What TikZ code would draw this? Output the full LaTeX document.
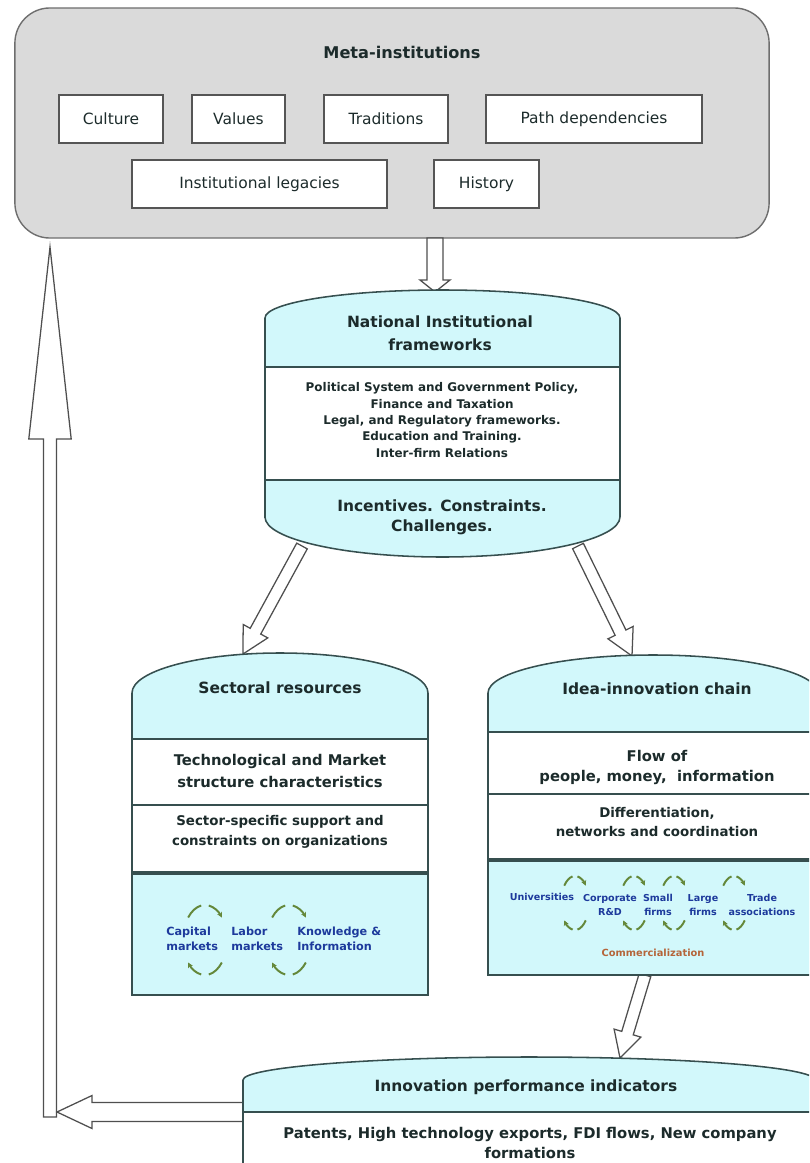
\documentclass[tikz,border=0pt]{standalone}
\usepackage{fontspec}
\setmainfont{DejaVu Sans}
\usepackage{tikz}
\usetikzlibrary{arrows.meta, calc}
\definecolor{cMeta}{HTML}{DADADA}
\definecolor{cMetaB}{HTML}{6E6E6E}
\definecolor{cTagB}{HTML}{555555}
\definecolor{cCyl}{HTML}{D2F8FB}
\definecolor{cCylB}{HTML}{364F4F}
\definecolor{cText}{HTML}{1C2B2B}
\definecolor{cBlue}{HTML}{1D3A9C}
\definecolor{cComm}{HTML}{B5653A}
\definecolor{cLoop}{HTML}{64883A}
\definecolor{cEdge}{HTML}{4F4F4F}

\newcommand{\blockarrow}[5]{%
  \coordinate (hb) at ($(#2)!#5!(#1)$);
  \filldraw[hollow] ($(#1)!#3!90:(#2)$) -- ($(hb)!#3!90:(#2)$) -- ($(hb)!#4!90:(#2)$) -- (#2)
    -- ($(hb)!#4!-90:(#2)$) -- ($(hb)!#3!-90:(#2)$) -- ($(#1)!#3!-90:(#2)$) -- cycle;
}
\newcommand{\loopmark}[4]{%
  \draw[cycarrow] (#1,#2) ++(-140:#3 and #4) arc[start angle=-140, end angle=-100, x radius=#3, y radius=#4];
  \draw[cycarrow, -{Stealth[length=1.3mm, width=1.3mm]}] (#1,#2) ++(-80:#3 and #4) arc[start angle=-80, end angle=-40, x radius=#3, y radius=#4];
  \draw[cycarrow] (#1,#2) ++(40:#3 and #4) arc[start angle=40, end angle=80, x radius=#3, y radius=#4];
  \draw[cycarrow, -{Stealth[length=1.3mm, width=1.3mm]}] (#1,#2) ++(100:#3 and #4) arc[start angle=100, end angle=140, x radius=#3, y radius=#4];
}

\begin{document}
\begin{tikzpicture}[x=0.025cm, y=-0.025cm,
  every node/.style={align=center, inner sep=0pt, text=cText},
  metabox/.style={draw=cMetaB, fill=cMeta, rounded corners=0.875cm, line width=1pt, minimum width=18.85cm, minimum height=5.75cm},
  tag/.style={draw=cTagB, fill=white, line width=1.1pt, minimum height=1.2cm, font=\fontsize{11}{13}\selectfont},
  ttl/.style={font=\bfseries\fontsize{11}{16}\selectfont},
  body/.style={font=\bfseries\fontsize{8.5}{11.7}\selectfont},
  sub/.style={font=\bfseries\fontsize{9.5}{14}\selectfont},
  big/.style={font=\bfseries\fontsize{10.5}{15}\selectfont},
  lbl/.style={text=cBlue, font=\bfseries\fontsize{8}{10.5}\selectfont},
  slbl/.style={text=cBlue, font=\bfseries\fontsize{6.8}{10.5}\selectfont},
  cyl/.style={draw=cCylB, line width=1.1pt},
  hollow/.style={draw=cEdge, fill=white, line width=0.9pt, line join=miter},
  cycarrow/.style={draw=cLoop, line width=1.4pt}
]
\useasboundingbox (0,0) rectangle (809,1163);
\clip (0,0) rectangle (809,1163);

\node[metabox] (meta) at (392,123) {};
\node[ttl, font=\bfseries\fontsize{11.5}{14}\selectfont] (metaTitle) at (402,52) {Meta-institutions};
\node[tag, minimum width=2.6cm] (culture) at (111,119) {Culture};
\node[tag, minimum width=2.325cm] (values) at (238.5,119) {Values};
\node[tag, minimum width=3.1cm] (traditions) at (386,119) {Traditions};
\node[tag, minimum width=5.4cm] (path) at (594,119) {Path dependencies};
\node[tag, minimum width=6.375cm] (legacies) at (259.5,184) {Institutional legacies};
\node[tag, minimum width=2.625cm] (history) at (486.5,184) {History};

\coordinate (metaOut) at (435,238);
\coordinate (natIn) at (435,292);
\coordinate (natOutL) at (302,546);
\coordinate (natOutR) at (578,546);
\coordinate (secIn) at (243,654);
\coordinate (ideaIn) at (632,656);
\coordinate (ideaOut) at (645,975);
\coordinate (innIn) at (620,1058);
\coordinate (innOut) at (243,1112);
\coordinate (backIn) at (57,1112);
\coordinate (backUp) at (50,1117);
\coordinate (metaIn) at (50,247);

\blockarrow{metaOut}{natIn}{0.2cm}{0.375cm}{0.3cm}
\blockarrow{natOutL}{secIn}{0.15cm}{0.35cm}{0.65cm}
\blockarrow{natOutR}{ideaIn}{0.15cm}{0.35cm}{0.65cm}
\blockarrow{ideaOut}{innIn}{0.15cm}{0.35cm}{0.65cm}
\blockarrow{backUp}{metaIn}{0.1625cm}{0.53cm}{4.8cm}
\blockarrow{innOut}{backIn}{0.2375cm}{0.4125cm}{0.875cm}

\fill[cCyl] (265,367) -- (265,318) arc[start angle=180, end angle=360, x radius=177.5, y radius=28] -- (620,367) -- cycle;
\fill[white] (265,367) rectangle (620,480);
\fill[cCyl] (265,480) -- (265,517) arc[start angle=180, end angle=0, x radius=177.5, y radius=40] -- (620,480) -- cycle;
\draw[cyl] (265,517) -- (265,318) arc[start angle=180, end angle=360, x radius=177.5, y radius=28] -- (620,517) arc[start angle=0, end angle=180, x radius=177.5, y radius=40] -- cycle;
\draw[cyl] (265,367) -- (620,367) (265,480) -- (620,480);
\node[ttl] (natTitle) at (440,333) {National Institutional\\frameworks};
\node[body] (natBody) at (442,420) {Political System and Government Policy,\\Finance and Taxation\\Legal, and Regulatory frameworks.\\Education and Training.\\Inter-firm Relations};
\node[big, font=\bfseries\fontsize{11}{14.2}\selectfont] (natInc) at (442,517) {Incentives. Constraints.\\Challenges.};

\fill[cCyl] (132,739) -- (132,693) arc[start angle=180, end angle=360, x radius=148, y radius=40] -- (428,739) -- cycle;
\fill[white] (132,739) rectangle (428,873);
\fill[cCyl] (132,873) rectangle (428,995);
\draw[cyl] (132,995) -- (132,693) arc[start angle=180, end angle=360, x radius=148, y radius=40] -- (428,995) -- cycle;
\draw[cyl] (132,739) -- (428,739) (132,805) -- (428,805);
\draw[cyl, line width=2.6pt] (132,873) -- (428,873);
\node[ttl] (secTitle) at (280,688) {Sectoral resources};
\node[big] (secTech) at (280,771) {Technological and Market\\structure characteristics};
\node[sub] (secSupport) at (280,832) {Sector-specific support and\\constraints on organizations};
\node[lbl, anchor=west, align=left] (capital) at (166,939) {Capital\\markets};
\node[lbl, anchor=west, align=left] (labor) at (231,939) {Labor\\markets};
\node[lbl, anchor=west, align=left] (knowledge) at (297,939) {Knowledge \&\\Information};
\loopmark{205}{940}{22}{35}
\loopmark{289}{940}{22}{35}

\fill[cCyl] (488,732) -- (488,693) arc[start angle=180, end angle=360, x radius=165, y radius=38] -- (818,732) -- cycle;
\fill[white] (488,732) rectangle (818,860);
\fill[cCyl] (488,860) rectangle (818,975);
\draw[cyl] (488,975) -- (488,693) arc[start angle=180, end angle=360, x radius=165, y radius=38] -- (818,975) -- cycle;
\draw[cyl] (488,732) -- (818,732) (488,794) -- (818,794);
\draw[cyl, line width=2.6pt] (488,860) -- (818,860);
\node[ttl] (ideaTitle) at (657,689) {Idea-innovation chain};
\node[big, font=\bfseries\fontsize{10.5}{14.2}\selectfont] (ideaFlow) at (657,767) {Flow of\\people, money,\ \ information};
\node[sub, font=\bfseries\fontsize{9.5}{13.5}\selectfont] (ideaDiff) at (657,822) {Differentiation,\\networks and coordination};
\node[slbl] (univ) at (542,897) {Universities};
\node[slbl] (corp) at (610,905) {Corporate\\R\&D};
\node[slbl] (small) at (658,905) {Small\\firms};
\node[slbl] (large) at (703,905) {Large\\firms};
\node[slbl] (trade) at (762,905) {Trade\\associations};
\node[text=cComm, font=\bfseries\fontsize{7}{9}\selectfont] (comm) at (653,953) {Commercialization};
\loopmark{575}{903}{14}{27}
\loopmark{634}{903}{14}{27}
\loopmark{674}{903}{14}{27}
\loopmark{734}{903}{14}{27}

\fill[cCyl] (243,1112) -- (243,1080) arc[start angle=180, end angle=360, x radius=286, y radius=23] -- (815,1112) -- cycle;
\fill[white] (243,1112) rectangle (815,1200);
\draw[cyl] (243,1200) -- (243,1080) arc[start angle=180, end angle=360, x radius=286, y radius=23] -- (815,1200);
\draw[cyl] (243,1112) -- (815,1112);
\node[ttl] (innTitle) at (526,1087) {Innovation performance indicators};
\node[big, font=\bfseries\fontsize{10.5}{14.2}\selectfont] (innBody) at (530,1143) {Patents, High technology exports, FDI flows, New company\\formations};
\end{tikzpicture}
\end{document}
